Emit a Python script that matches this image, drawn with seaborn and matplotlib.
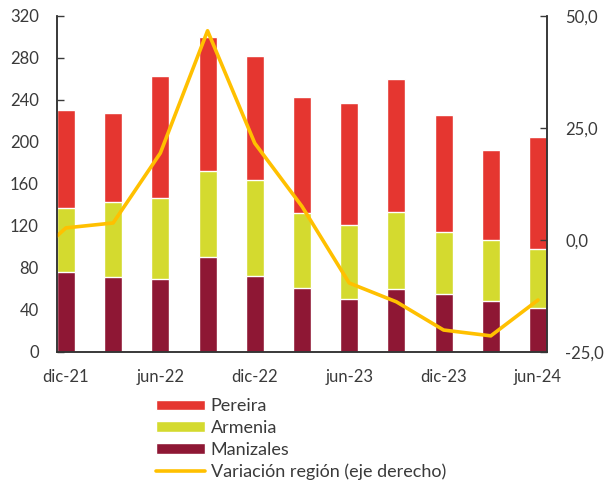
import numpy as np
import pandas as pd
import seaborn as sns
import matplotlib
matplotlib.use("Agg")
import matplotlib.pyplot as plt
from matplotlib.patches import Patch
from matplotlib.lines import Line2D

# Datos
periodos = ["dic-21", "mar-22", "jun-22", "sep-22", "dic-22", "mar-23",
            "jun-23", "sep-23", "dic-23", "mar-24", "jun-24"]
manizales = [76, 71, 69.5, 90, 72, 61, 50, 60, 55, 49, 42]
armenia = [61, 72, 77, 82, 92, 71, 71, 73, 59, 58, 56]
pereira = [93, 85, 116, 128, 118, 111, 116, 127, 112, 85, 107]
# variacion region, incluye sep-21 (solo se ve el tramo inicial)
var_periodos = ["sep-21"] + periodos
var_region = [-6.8, 2.7, 3.8, 19.4, 46.7, 21.6, 7.5, -9.6, -13.8, -20.1, -21.4, -13.4]
etiquetas_x = ["dic-21", "jun-22", "dic-22", "jun-23", "dic-23", "jun-24"]

c_pereira = "#E53630"
c_armenia = "#D4DA2F"
c_manizales = "#8E1734"
c_linea = "#FFC000"
gris = "#3A3A3A"

sns.set_theme(style="white")
plt.rcParams["font.family"] = ["Lato", "DejaVu Sans"]

df = pd.DataFrame({"periodo": periodos, "Manizales": manizales,
                   "Armenia": armenia, "Pereira": pereira})
df["arm_acum"] = df["Manizales"] + df["Armenia"]
df["total"] = df["arm_acum"] + df["Pereira"]

fig = plt.figure(figsize=(6.06, 4.8), dpi=100)
ax = fig.add_axes([0.094, 0.2667, 0.8086, 0.7])

ancho = 0.38
sns.barplot(data=df, x="periodo", y="total", color=c_pereira, width=ancho,
            saturation=1, ax=ax)
sns.barplot(data=df, x="periodo", y="arm_acum", color=c_armenia, width=ancho,
            saturation=1, ax=ax)
sns.barplot(data=df, x="periodo", y="Manizales", color=c_manizales, width=ancho,
            saturation=1, ax=ax)

ax.set_xlim(-ancho / 2, len(periodos) - 1 + ancho / 2)
ax.set_ylim(0, 320)
ax.set_yticks(np.arange(0, 321, 40))
ax.set_xlabel("")
ax.set_ylabel("")
pos_lab = [periodos.index(e) for e in etiquetas_x]
ax.set_xticks(pos_lab)
ax.set_xticklabels(etiquetas_x)
ax.set_xticks([p - 0.17 for p in pos_lab[1:]], minor=True)
ax.tick_params(axis="x", which="major", length=0, pad=12, labelsize=12, colors=gris)
ax.tick_params(axis="x", which="minor", direction="in", length=3, width=1, color="#222222", bottom=True)
ax.tick_params(axis="y", direction="in", length=5, width=1, color=gris, pad=13,
               labelsize=12, labelcolor=gris, left=True)

ax2 = ax.twinx()
x_var = np.arange(-1, len(periodos))
sns.lineplot(x=x_var, y=var_region, color=c_linea, linewidth=2.6, ax=ax2,
             clip_on=True)
ax2.set_ylim(-25, 50)
ax2.set_yticks([-25, 0, 25, 50])
ax2.set_yticklabels([f"{v:.1f}".replace(".", ",") for v in [-25, 0, 25, 50]])
ax2.tick_params(axis="y", direction="in", length=5, width=1, color=gris, pad=13,
                labelsize=12, labelcolor=gris, right=True)
ax2.set_xlim(ax.get_xlim())

for a in (ax, ax2):
    a.spines["top"].set_visible(False)
    for s in ("left", "right", "bottom"):
        a.spines[s].set_color("#333333")
        a.spines[s].set_linewidth(1.1)

handles = [Patch(facecolor=c_pereira, label="Pereira"),
           Patch(facecolor=c_armenia, label="Armenia"),
           Patch(facecolor=c_manizales, label="Manizales"),
           Line2D([0], [0], color=c_linea, linewidth=2.6, label="Variación región (eje derecho)")]
leg = fig.legend(handles=handles, loc="upper left", bbox_to_anchor=(0.258, 0.170),
                 frameon=False, fontsize=13, handlelength=2.7, handleheight=0.55,
                 handletextpad=0.3, labelspacing=0.32, borderpad=0, borderaxespad=0)
for t in leg.get_texts():
    t.set_color(gris)

fig.savefig("out.png", dpi=100)
